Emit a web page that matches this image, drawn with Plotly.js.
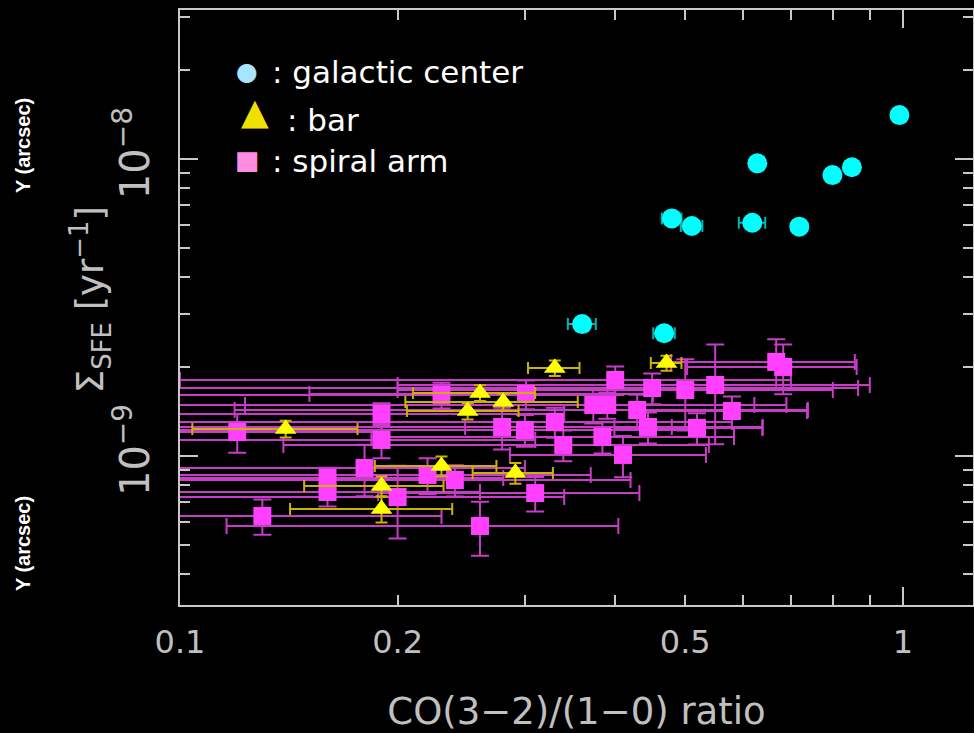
<!DOCTYPE html>
<html>
<head>
<meta charset="utf-8">
<script src="https://cdn.plot.ly/plotly-3.0.1.min.js"></script>
<style>html,body{margin:0;padding:0;background:#000;}</style>
</head>
<body>
<div id="chart" style="width:974px;height:733px;"></div>
<script>
// ---- data ----
// galactic center (cyan circles)
const galX    = [0.989, 0.629, 0.799, 0.850, 0.479, 0.5105, 0.619, 0.719, 0.360, 0.4675];
const galY    = [1.406e-8, 9.67e-9, 8.83e-9, 9.38e-9, 6.31e-9, 5.95e-9, 6.10e-9, 5.92e-9, 2.78e-9, 2.59e-9];
const galXErr = [0.005, 0.006, 0.006, 0.006, 0.015, 0.0175, 0.026, 0.008, 0.016, 0.016];

// bar (yellow triangles)
const barX    = [0.140, 0.190, 0.190, 0.230, 0.250, 0.260, 0.280, 0.291, 0.330, 0.471];
const barY    = [1.233e-9, 7.92e-10, 6.63e-10, 9.25e-10, 1.417e-9, 1.630e-9, 1.520e-9, 8.76e-10, 1.978e-9, 2.057e-9];
const barXErr = [0.036, 0.0415, 0.048, 0.044, 0.044, 0.05, 0.075, 0.037, 0.027, 0.023];
const barYErr = [8e-11, 6e-11, 6.6e-11, 7e-11, 9e-11, 1e-10, 1e-10, 7e-11, 1.2e-10, 1.2e-10];

// spiral arm (magenta squares)
const armX    = [0.120, 0.130, 0.160, 0.160, 0.180, 0.190, 0.190, 0.200, 0.220, 0.230, 0.240,
                 0.260, 0.279, 0.300, 0.301, 0.310, 0.330, 0.339, 0.373, 0.390, 0.384, 0.400,
                 0.410, 0.429, 0.444, 0.450, 0.500, 0.519, 0.550, 0.580, 0.668, 0.683];
const armY    = [1.205e-9, 6.28e-10, 8.43e-10, 7.56e-10, 9.11e-10, 1.385e-9, 1.132e-9, 7.27e-10, 8.63e-10, 1.605e-9, 8.30e-10,
                 5.81e-10, 1.252e-9, 1.223e-9, 1.617e-9, 7.50e-10, 1.302e-9, 1.089e-9, 1.485e-9, 1.485e-9, 1.159e-9, 1.803e-9,
                 1.008e-9, 1.428e-9, 1.252e-9, 1.694e-9, 1.668e-9, 1.243e-9, 1.734e-9, 1.417e-9, 2.073e-9, 1.994e-9];
const armXErr = [0.07, 0.10, 0.12, 0.10, 0.12, 0.15, 0.12, 0.14, 0.15, 0.16, 0.18,
                 0.144, 0.20, 0.22, 0.15, 0.122, 0.25, 0.20, 0.25, 0.30, 0.20, 0.30,
                 0.124, 0.31, 0.196, 0.417, 0.30, 0.12, 0.35, 0.157, 0.19, 0.18];
const armYErr = [1.8e-10, 8.5e-11, 7e-11, 8e-11, 1.8e-10, 1.2e-10, 1.5e-10, 2.0e-10, 1.2e-10, 1.6e-10, 1.0e-10,
                 1.2e-10, 2.0e-10, 1.5e-10, 1.8e-10, 1.0e-10, 1.5e-10, 1.3e-10, 2.0e-10, 1.5e-10, 1.4e-10, 2.0e-10,
                 1.6e-10, 1.8e-10, 1.5e-10, 2.0e-10, 4.5e-10, 1.5e-10, 6.4e-10, 1.7e-10, 4.0e-10, 3.8e-10];

// axis labels and key
const xTickVals = [0.1, 0.2, 0.5, 1];
const xTickText = ['0.1', '0.2', '0.5', '1'];
const xTitle = 'CO(3−2)/(1−0) ratio';
const yTitle = 'Σ<sub>SFE</sub> [yr<sup>−1</sup>]';
const keyNames   = [': galactic center', ': bar', ': spiral arm'];
const keyGlyphs  = ['●', '▲', '■'];
const keyColors  = ['#a8e4ff', '#f0e000', '#ff8ce0'];

// ---- traces ----
const axisGray = '#c8c8c8';
const textGray = '#c0c0c0';

const armTrace = {
  type: 'scatter', mode: 'markers', x: armX, y: armY, showlegend: false, name: 'spiral arm',
  marker: {symbol: 'square', size: 18, color: '#ff40ff'},
  error_x: {type: 'data', array: armXErr, color: '#c83cc8', thickness: 2, width: 8},
  error_y: {type: 'data', array: armYErr, color: '#c83cc8', thickness: 2, width: 9}
};
const barTrace = {
  type: 'scatter', mode: 'markers', x: barX, y: barY, showlegend: false, name: 'bar',
  marker: {symbol: 'triangle-up', size: 19, color: '#ffff00'},
  error_x: {type: 'data', array: barXErr, color: '#c8b400', thickness: 2, width: 6},
  error_y: {type: 'data', array: barYErr, color: '#c8b400', thickness: 2, width: 6}
};
const galTrace = {
  type: 'scatter', mode: 'markers', x: galX, y: galY, showlegend: false, name: 'galactic center',
  marker: {symbol: 'circle', size: 20, color: '#00ffff'},
  error_x: {type: 'data', array: galXErr, color: '#00b4b4', thickness: 2, width: 6}
};
// overlay axis carrying the long decade ticks of the x axis
const decadeAxisTrace = {type: 'scatter', mode: 'markers', x: [null], y: [null], xaxis: 'x2', showlegend: false};

const tickFont = {family: 'DejaVu Sans', size: 32, color: textGray};

// key (legend) placed as text inside the plot
const keyGlyphX = [0.0845, 0.0946, 0.0845];
const keyGlyphY = [0.8958, 0.8294, 0.7479];
const keyTextX  = [0.1129, 0.1318, 0.1129];
const keyTextY  = [0.8958, 0.8151, 0.7462];
const keyGlyphSize = [25, 36, 26];
const keyAnn = [];
for (let i = 0; i < 3; i++) {
  keyAnn.push({xref: 'paper', yref: 'paper', x: keyGlyphX[i], y: keyGlyphY[i], xanchor: 'center', yanchor: 'middle',
    text: keyGlyphs[i], showarrow: false, font: {family: 'DejaVu Sans', size: keyGlyphSize[i], color: keyColors[i]}});
  keyAnn.push({xref: 'paper', yref: 'paper', x: keyTextX[i], y: keyTextY[i], xanchor: 'left', yanchor: 'middle',
    text: keyNames[i], showarrow: false, font: {family: 'DejaVu Sans', size: 31, color: '#ffffff'}});
}

const layout = {
  width: 974, height: 733,
  margin: {l: 180, r: 1, t: 10, b: 128, pad: 0},
  paper_bgcolor: '#000', plot_bgcolor: '#000',
  showlegend: false,
  xaxis: {
    type: 'log', range: [-1, 0.097],
    tickmode: 'array', tickvals: xTickVals, ticktext: xTickText,
    ticks: 'inside', ticklen: 10, tickwidth: 2, tickcolor: axisGray,
    showline: true, linecolor: axisGray, linewidth: 2, mirror: 'ticks',
    showgrid: false, zeroline: false, tickfont: tickFont, ticklabelstandoff: 8,
    minor: {dtick: 'D1', ticks: 'inside', ticklen: 10, tickwidth: 2, tickcolor: axisGray, showgrid: false},
    title: {text: xTitle, font: {family: 'DejaVu Sans', size: 37, color: textGray}, standoff: 44}
  },
  xaxis2: {
    type: 'log', range: [-1, 0.097], overlaying: 'x', anchor: 'y', side: 'bottom',
    tickmode: 'array', tickvals: [0.1, 1], showticklabels: false,
    ticks: 'inside', ticklen: 18, tickwidth: 2, tickcolor: axisGray,
    showline: false, mirror: 'ticks', showgrid: false, zeroline: false
  },
  yaxis: {
    type: 'log', range: [-9.502, -7.498], dtick: 1, exponentformat: 'power',
    ticks: 'inside', ticklen: 18, tickwidth: 2, tickcolor: axisGray, tickangle: -90,
    showline: true, linecolor: axisGray, linewidth: 2, mirror: 'ticks',
    showgrid: false, zeroline: false, tickfont: tickFont, ticklabelstandoff: 15,
    minor: {dtick: 'D1', ticks: 'inside', ticklen: 10, tickwidth: 2, tickcolor: axisGray, showgrid: false},
    title: {text: ''}
  },
  annotations: [
    // y-axis title, placed to sit where the reference has it
    {xref: 'paper', yref: 'paper', x: -0.1135, y: 0.514, xanchor: 'center', yanchor: 'middle', text: yTitle, textangle: -90,
     showarrow: false, font: {family: 'DejaVu Sans', size: 37, color: textGray}},
    {xref: 'paper', yref: 'paper', x: -0.198, y: 0.773, xanchor: 'center', yanchor: 'middle', text: '<b>Y (arcsec)</b>', textangle: -90,
     showarrow: false, font: {family: 'Liberation Sans', size: 20, color: '#ffffff'}},
    {xref: 'paper', yref: 'paper', x: -0.198, y: 0.104, xanchor: 'center', yanchor: 'middle', text: '<b>Y (arcsec)</b>', textangle: -90,
     showarrow: false, font: {family: 'Liberation Sans', size: 20, color: '#ffffff'}}
  ].concat(keyAnn)
};

Plotly.newPlot('chart', [armTrace, barTrace, galTrace, decadeAxisTrace], layout,
  {staticPlot: true, displayModeBar: false});
</script>
</body>
</html>
